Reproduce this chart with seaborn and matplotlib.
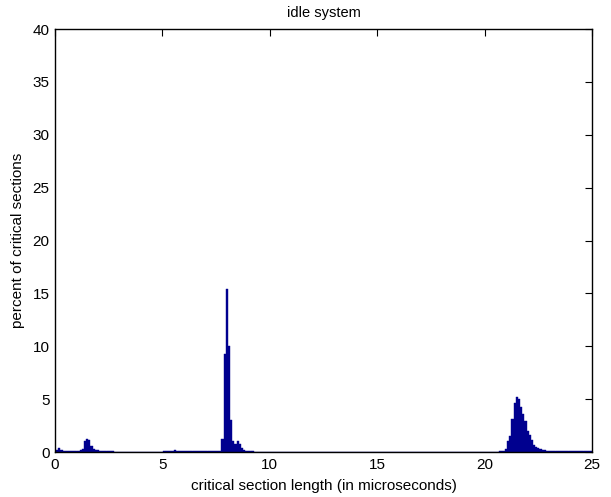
import numpy as np
import pandas as pd
import matplotlib
matplotlib.use("Agg")
import matplotlib.pyplot as plt
import seaborn as sns

# bin centers (microseconds), 0.0 .. 25.0 step 0.1
bin_centers = [round(i * 0.1, 1) for i in range(251)]

# percent of critical sections per bin
pct = (
    # 0.0 - 0.9
    [0.10, 0.15, 0.40, 0.20, 0.10, 0.08, 0.10, 0.08, 0.10, 0.10]
    # 1.0 - 1.9
    + [0.10, 0.12, 0.15, 0.25, 1.00, 1.20, 1.10, 0.60, 0.30, 0.20]
    # 2.0 - 2.9
    + [0.15, 0.12, 0.10, 0.08, 0.08, 0.06, 0.05, 0.05, 0.04, 0.04]
    # 3.0 - 3.9
    + [0.03, 0.04, 0.03, 0.03, 0.02, 0.03, 0.03, 0.02, 0.03, 0.02]
    # 4.0 - 4.9
    + [0.02, 0.03, 0.02, 0.03, 0.02, 0.02, 0.03, 0.02, 0.03, 0.04]
    # 5.0 - 5.9
    + [0.04, 0.05, 0.06, 0.08, 0.10, 0.12, 0.15, 0.12, 0.10, 0.08]
    # 6.0 - 6.9
    + [0.06, 0.05, 0.06, 0.05, 0.05, 0.06, 0.08, 0.10, 0.08, 0.06]
    # 7.0 - 7.9
    + [0.05, 0.06, 0.05, 0.06, 0.05, 0.05, 0.06, 0.10, 1.20, 9.30]
    # 8.0 - 8.9
    + [15.40, 10.00, 3.00, 1.00, 0.75, 1.00, 0.80, 0.35, 0.15, 0.10]
    # 9.0 - 9.9
    + [0.08, 0.06, 0.05, 0.04, 0.04, 0.03, 0.03, 0.03, 0.02, 0.02]
    # 10.0 - 10.9
    + [0.02, 0.03, 0.02, 0.02, 0.03, 0.02, 0.02, 0.03, 0.02, 0.02]
    # 11.0 - 11.9
    + [0.03, 0.02, 0.02, 0.03, 0.02, 0.02, 0.02, 0.03, 0.02, 0.02]
    # 12.0 - 12.9
    + [0.02, 0.03, 0.02, 0.02, 0.02, 0.03, 0.02, 0.02, 0.03, 0.02]
    # 13.0 - 13.9
    + [0.02, 0.02, 0.03, 0.02, 0.02, 0.02, 0.03, 0.02, 0.02, 0.02]
    # 14.0 - 14.9
    + [0.03, 0.02, 0.02, 0.02, 0.03, 0.02, 0.02, 0.03, 0.02, 0.02]
    # 15.0 - 15.9
    + [0.02, 0.03, 0.02, 0.02, 0.02, 0.03, 0.02, 0.02, 0.02, 0.03]
    # 16.0 - 16.9
    + [0.02, 0.02, 0.03, 0.02, 0.02, 0.02, 0.03, 0.02, 0.02, 0.02]
    # 17.0 - 17.9
    + [0.03, 0.02, 0.02, 0.02, 0.03, 0.02, 0.02, 0.02, 0.03, 0.02]
    # 18.0 - 18.9
    + [0.02, 0.02, 0.03, 0.02, 0.02, 0.03, 0.02, 0.02, 0.02, 0.03]
    # 19.0 - 19.9
    + [0.02, 0.02, 0.03, 0.02, 0.02, 0.02, 0.03, 0.02, 0.02, 0.03]
    # 20.0 - 20.9
    + [0.02, 0.03, 0.02, 0.03, 0.02, 0.03, 0.04, 0.05, 0.06, 0.10]
    # 21.0 - 21.9
    + [0.25, 1.00, 1.50, 3.10, 4.60, 5.20, 5.00, 4.30, 3.60, 2.90]
    # 22.0 - 22.9
    + [2.00, 1.60, 1.10, 0.65, 0.45, 0.35, 0.25, 0.20, 0.15, 0.12]
    # 23.0 - 23.9
    + [0.10, 0.10, 0.08, 0.10, 0.08, 0.10, 0.08, 0.10, 0.08, 0.10]
    # 24.0 - 24.9
    + [0.08, 0.10, 0.08, 0.10, 0.08, 0.08, 0.10, 0.08, 0.10, 0.08]
    # 25.0
    + [0.08]
)

x_ticks = [0, 5, 10, 15, 20, 25]
y_ticks = [0, 5, 10, 15, 20, 25, 30, 35, 40]

df = pd.DataFrame({"length": bin_centers, "pct": pct})

sns.set_style("white")
plt.rcParams["font.family"] = ["Liberation Sans", "DejaVu Sans"]
plt.rcParams["text.color"] = "black"
plt.rcParams["axes.labelcolor"] = "black"
plt.rcParams["xtick.color"] = "black"
plt.rcParams["ytick.color"] = "black"

fig = plt.figure(figsize=(6.11, 4.97), dpi=100)
ax = fig.add_axes([0.090, 0.0905, 0.879, 0.851])

half = 0.05
edges = [round(-half + 0.1 * i, 2) for i in range(252)]
sns.histplot(data=df, x="length", weights="pct", bins=edges, ax=ax,
             color="#00008F", edgecolor="#00008F", linewidth=0.3,
             alpha=1.0, element="bars", fill=True)

ax.set_xlim(0, 25)
ax.set_ylim(0, 40)
ax.set_xticks(x_ticks)
ax.set_yticks(y_ticks)
ax.set_xticklabels([str(t) for t in x_ticks], fontsize=11)
ax.set_yticklabels([str(t) for t in y_ticks], fontsize=11)
ax.tick_params(direction="in", top=True, right=True, length=5, width=0.8,
               color="black", labelcolor="black", pad=4)
for s in ax.spines.values():
    s.set_visible(True)
    s.set_color("black")
    s.set_linewidth(1.0)

ax.set_xlabel("critical section length (in microseconds)", fontsize=11, labelpad=5,
              color="black")
ax.set_ylabel("percent of critical sections", fontsize=11, labelpad=5, color="black")
ax.set_title("idle system", fontsize=10.5, pad=9, color="black")

fig.savefig("out.png", dpi=100)
